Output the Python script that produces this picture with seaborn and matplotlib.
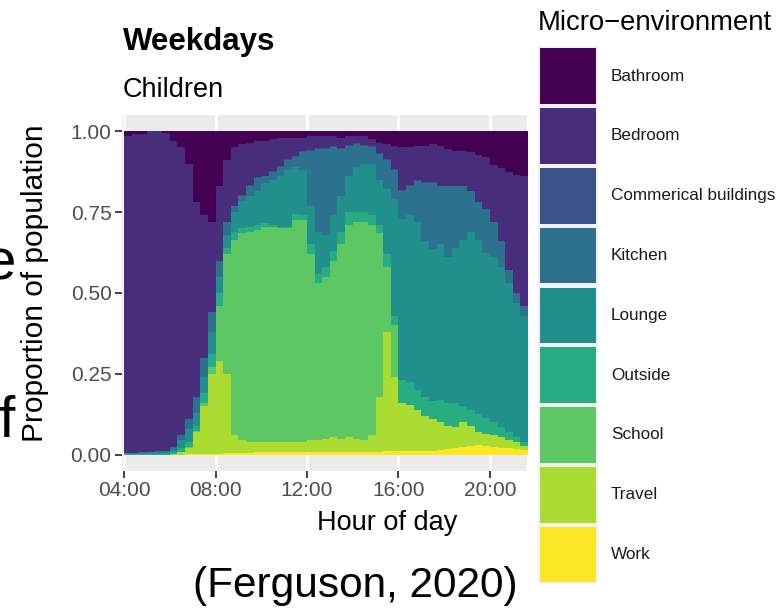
import numpy as np
import pandas as pd
import matplotlib
matplotlib.use("Agg")
import matplotlib.pyplot as plt
from matplotlib.patches import Rectangle
import seaborn as sns

# Micro-environments, listed from the top of the stack to the bottom
environments = ["Bathroom", "Bedroom", "Commerical buildings", "Kitchen",
                "Lounge", "Outside", "School", "Travel", "Work"]

# 20-minute time slots, 04:00 to 21:20
slot_labels = pd.date_range("2020-01-01 04:00", periods=53, freq="20min").strftime("%H:%M").tolist()

# Proportion of children in each micro-environment per slot (weekdays)
work = [0, 0, 0, 0, 0, 0, 0, 0, .002, .002, .003, .003, .004, .005, .006, .006, .007, .008,
        .008, .008, .008, .008, .009, .009, .01, .01, .01, .01, .01, .01, .01, .01, .01, .01,
        .012, .012, .012, .012, .012, .012, .012, .015, .018, .02, .025, .028, .03, .028,
        .025, .022, .02, .018, .015]
travel = [0, 0, 0, 0, 0, 0, .003, .008, .018, .068, .147, .247, .286, .245, .054, .039, .033, .032,
          .032, .032, .032, .032, .031, .031, .035, .035, .04, .045, .04, .045, .04, .035, .05, .17,
          .368, .228, .148, .143, .128, .108, .098, .085, .072, .065, .075, .062, .04, .037,
          .035, .033, .025, .022, .013]
school = [0, 0, 0, 0, 0, 0, 0, .002, .005, .005, .01, .02, .17, .37, .605, .641, .65, .655,
          .665, .665, .66, .66, .685, .685, .575, .485, .50, .545, .60, .655, .67, .675, .65, .505,
          .20, .16, 0, 0, 0, 0, 0, 0, 0, 0, 0, 0, 0, 0,
          0, 0, 0, 0, 0]
outside = [.002, .002, .003, .003, .004, .004, .005, .01, .015, .015, .03, .04, .04, .02, .025, .014, .015, .015,
           .01, .005, .005, .005, .02, .015, .03, .03, .03, .03, .04, .04, .03, .03, .03, .025,
           .04, .03, .07, .07, .06, .06, .055, .07, .07, .075, .05, .05, .055, .05,
           .04, .03, .025, .015, .012]
lounge = [.003, .003, .003, .005, .005, .005, .008, .025, .04, .04, .05, .07, .05, .04, .06, .085, .095, .105,
          .125, .14, .155, .175, .145, .14, .12, .13, .10, .11, .11, .11, .14, .15, .16, .14,
          .20, .36, .50, .515, .52, .48, .47, .48, .45, .48, .515, .55, .54, .51,
          .51, .495, .46, .415, .39]
kitchen = [.002, .002, .002, .002, .003, .003, .007, .015, .03, .05, .06, .06, .05, .04, .02, .015, .03, .04,
           .02, .025, .03, .03, .03, .055, .17, .255, .265, .21, .145, .095, .07, .055, .05, .08,
           .09, .09, .085, .09, .125, .18, .205, .18, .22, .19, .165, .125, .115, .135,
           .11, .08, .04, .03, .03]
commercial = [0, 0, 0, 0, 0, 0, 0, 0, 0, 0, 0, 0, 0, 0, 0, .003, .003, .003,
              .003, .003, .003, .003, .003, .003, .003, .003, .003, .003, .003, .003, .003, .003, .003, .003,
              .003, .003, .003, .003, .003, .003, .003, 0, 0, 0, 0, 0, 0, 0,
              0, 0, 0, 0, 0]
bedroom = [.978, .983, .982, .99, .988, .983, .947, .89, .79, .60, .44, .28, .23, .19, .18, .157, .132, .112,
           .107, .097, .087, .067, .057, .042, .042, .037, .037, .032, .032, .027, .022, .027, .022, .032,
           .047, .072, .132, .117, .107, .112, .117, .125, .115, .11, .11, .12, .145, .16,
           .175, .225, .305, .365, .40]
bathroom = [.015, .01, .01, 0, 0, .005, .03, .05, .10, .22, .26, .28, .17, .09, .05, .04, .035, .03,
            .03, .025, .02, .02, .02, .02, .015, .015, .015, .015, .02, .015, .015, .015, .025, .035,
            .04, .045, .05, .05, .045, .045, .04, .045, .055, .06, .06, .065, .075, .08,
            .105, .115, .125, .135, .14]

x_tick_hours = [4, 8, 12, 16, 20]
x_tick_labels = ["04:00", "08:00", "12:00", "16:00", "20:00"]
y_tick_values = [0.0, 0.25, 0.5, 0.75, 1.0]
y_tick_labels = ["0.00", "0.25", "0.50", "0.75", "1.00"]

palette = ["#440154", "#472D7B", "#3B528B", "#2C728E", "#21908C",
           "#27AD81", "#5DC863", "#AADC32", "#FDE725"]

series = {"Bathroom": bathroom, "Bedroom": bedroom, "Commerical buildings": commercial,
          "Kitchen": kitchen, "Lounge": lounge, "Outside": outside, "School": school,
          "Travel": travel, "Work": work}

# Slot start times as decimal hours, plus the closing edge of the last slot
starts = np.array([int(s[:2]) + int(s[3:]) / 60 for s in slot_labels])
slot_len = 20 / 60
edges = [float(e) for e in np.append(starts, starts[-1] + slot_len)]

rows = []
for env in environments:
    for t, v in zip(starts, series[env]):
        rows.append({"hour": t + slot_len / 2, "share": v, "env": env})
df = pd.DataFrame(rows)

sns.set_theme(style="darkgrid")
plt.rcParams["font.family"] = ["Liberation Sans", "DejaVu Sans"]

W, H = 779, 609
fig = plt.figure(figsize=(W / 100, H / 100), dpi=100)
fig.patch.set_facecolor("white")


def fx(x):
    return x / W


def fy(y):
    return 1 - y / H


ax = fig.add_axes([fx(122), fy(471), (527 - 122) / W, (471 - 115) / H])
ax.set_facecolor("#EBEBEB")

sns.histplot(data=df, x="hour", weights="share", hue="env", hue_order=environments,
             multiple="stack", element="step", bins=edges, palette=palette,
             alpha=1, linewidth=0, legend=False, ax=ax)

ax.set_xlim(3.91, 21.62)
ax.set_ylim(-0.05, 1.05)
ax.set_xticks(x_tick_hours)
ax.set_xticklabels(x_tick_labels)
ax.set_yticks(y_tick_values)
ax.set_yticklabels(y_tick_labels)
ax.set_xlabel("")
ax.set_ylabel("")
ax.grid(axis="x", color="white", linewidth=1.8)
ax.grid(axis="y", visible=False)
ax.set_axisbelow(True)
for s in ax.spines.values():
    s.set_visible(False)
ax.tick_params(axis="both", which="major", length=5, width=1.3, color="#333333",
               labelcolor="#4D4D4D", labelsize=15, pad=2.5)
ax.tick_params(axis="x", bottom=True)
ax.tick_params(axis="y", left=True)

# Titles and axis titles
fig.text(fx(123), fy(50), "Weekdays", fontsize=22.5, fontweight="bold",
         color="black", ha="left", va="baseline")
fig.text(fx(123), fy(97), "Children", fontsize=19.5, color="black",
         ha="left", va="baseline")
fig.text(fx(35), fy(283), "Proportion of population", fontsize=21.5, rotation=90,
         color="black", ha="center", va="center")
fig.text(fx(387), fy(530), "Hour of day", fontsize=19.5, color="black",
         ha="center", va="baseline")

# Legend with large square keys
fig.text(fx(538), fy(30), "Micro\u2212environment", fontsize=19.8, color="black",
         ha="left", va="baseline")
fig.add_artist(Rectangle((fx(538), fy(583)), (598 - 538) / W, (583 - 46) / H,
                         transform=fig.transFigure, facecolor="#F2F2F2", edgecolor="none"))
for i, (env, col) in enumerate(zip(environments, palette)):
    top = 48.3 + 59.8 * i
    fig.add_artist(Rectangle((fx(540), fy(top + 55.7)), 56 / W, 55.7 / H,
                             transform=fig.transFigure, facecolor=col, edgecolor="none"))
    fig.text(fx(611), fy(top + 27.9), env, fontsize=12.3, color="#1A1A1A",
             ha="left", va="center")

# Citation and slide text at the edges
fig.text(fx(518), fy(597), "(Ferguson, 2020)", fontsize=30.5, color="black",
         ha="right", va="baseline")
fig.text(fx(16), fy(280), "e", fontsize=42, color="black", ha="right", va="baseline")
fig.text(fx(14), fy(437), "f", fontsize=42, color="black", ha="right", va="baseline")

fig.savefig("out.png", dpi=100)
